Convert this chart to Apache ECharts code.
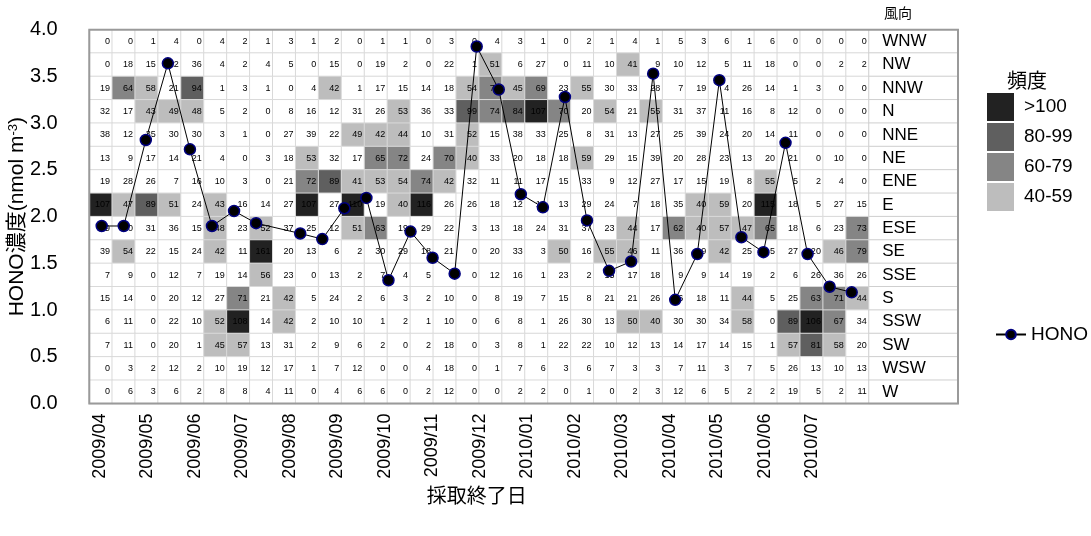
<!DOCTYPE html>
<html><head><meta charset="utf-8">
<script src="https://cdn.jsdelivr.net/npm/echarts@6/dist/echarts.min.js"></script>
<style>html,body{margin:0;padding:0;background:#fff}#c{width:1091px;height:536px}</style>
</head><body><div id="c"></div>
<script>
// ---- data ----
const directions = ['WNW','NW','NNW','N','NNE','NE','ENE','E','ESE','SE','SSE','S','SSW','SW','WSW','W'];
const freqWNW = [0,0,1,4,0,4,2,1, 3,1,2,0,1,1,0,3,0, 4,3,1,0,2,1,4,1,5,3, 6,1,6,0,0,0,0];
const freqNW  = [0,18,15,12,36,4,2,4, 5,0,15,0,19,2,0,22,1, 51,6,27,0,11,10,41,9,10,12, 5,11,18,0,0,2,2];
const freqNNW = [19,64,58,21,94,1,3,1, 0,4,42,1,17,15,14,18,54, 72,45,69,23,55,30,33,28,7,19, 4,26,14,1,3,0,0];
const freqN   = [32,17,43,49,48,5,2,0, 8,16,12,31,26,53,36,33,99, 74,84,107,70,20,54,21,55,31,37, 11,16,8,12,0,0,0];
const freqNNE = [38,12,35,30,30,3,1,0, 27,39,22,49,42,44,10,31,52, 15,38,33,25,8,31,13,27,25,39, 24,20,14,11,0,0,0];
const freqNE  = [13,9,17,14,21,4,0,3, 18,53,32,17,65,72,24,70,40, 33,20,18,18,59,29,15,39,20,28, 23,13,20,21,0,10,0];
const freqENE = [19,28,26,7,16,10,3,0, 21,72,89,41,53,54,74,42,32, 11,11,17,15,33,9,12,27,17,15, 19,8,55,5,2,4,0];
const freqE   = [107,47,89,51,24,43,16,14, 27,107,27,110,19,40,116,26,26, 18,12,19,13,29,24,7,18,35,40, 59,20,115,18,5,27,15];
const freqESE = [29,30,31,36,15,48,23,52, 37,25,12,51,63,19,29,22,3, 13,18,24,31,37,23,44,17,62,40, 57,47,65,18,6,23,73];
const freqSE  = [39,54,22,15,24,42,11,161, 20,13,6,2,30,29,18,21,0, 20,33,3,50,16,55,46,11,36,19, 42,25,5,27,20,46,79];
const freqSSE = [7,9,0,12,7,19,14,56, 23,0,13,2,7,4,5,0,0, 12,16,1,23,2,15,17,18,9,9, 14,19,2,6,26,36,26];
const freqS   = [15,14,0,20,12,27,71,21, 42,5,24,2,6,3,2,10,0, 8,19,7,15,8,21,21,26,16,18, 11,44,5,25,63,71,44];
const freqSSW = [6,11,0,22,10,52,108,14, 42,2,10,10,1,2,1,10,0, 6,8,1,26,30,13,50,40,30,30, 34,58,0,89,106,67,34];
const freqSW  = [7,11,0,20,1,45,57,13, 31,2,9,6,2,0,2,18,0, 3,8,1,22,22,10,12,13,14,17, 14,15,1,57,81,58,20];
const freqWSW = [0,3,2,12,2,10,19,12, 17,1,7,12,0,0,4,18,0, 1,7,6,3,6,7,3,3,7,11, 3,7,5,26,13,10,13];
const freqW   = [0,6,3,6,2,8,8,4, 11,0,4,6,6,0,2,12,0, 0,2,2,0,1,0,2,3,12,6, 5,2,2,19,5,2,11];

const samples = ['1','2','3','4','5','6','7','8','9','10','11','12','13','14','15','16','17','18','19','20','21','22','23','24','25','26','27','28','29','30','31','32','33','34','35'];
const hono = [1.90,1.90,2.82,3.64,2.72,1.90,2.06,1.93,null,1.82,1.76,2.09,2.20,1.32,1.84,1.56,1.39,3.82,3.36,2.24,2.10,3.28,1.96,1.42,1.52,3.53,1.11,1.60,3.46,1.78,1.62,2.79,1.60,1.25,1.19];
const months = ['2009/04','2009/05','2009/06','2009/07','2009/08','2009/09','2009/10','2009/11','2009/12','2010/01','2010/02','2010/03','2010/04','2010/05','2010/06','2010/07'];
const yTicks = [0,0.5,1,1.5,2,2.5,3,3.5,4];

// ---- build ----
const freqRows = [freqWNW,freqNW,freqNNW,freqN,freqNNE,freqNE,freqENE,freqE,freqESE,freqSE,freqSSE,freqS,freqSSW,freqSW,freqWSW,freqW];
const colNames = freqWNW.map((_, j) => 'c' + (j + 1));
const heatData = [];
freqRows.forEach((row, i) => row.forEach((v, j) => heatData.push([j, i, v])));
const dirData = directions.map((d, i) => [0, i, 0]);

const FONT = "'Liberation Sans', Arial, 'Noto Sans CJK JP', sans-serif";
const JP = "'Noto Sans CJK JP', sans-serif";
const TOP = 29.7, H = 373.9;

const chart = echarts.init(document.getElementById('c'), null, {renderer: 'canvas'});
chart.setOption({
  animation: false,
  backgroundColor: '#fff',
  title: [
    {text: '風向', left: 879, top: 1, textStyle: {fontSize: 14, fontWeight: 'normal', fontFamily: JP, color: '#000'}},
    {text: '頻度', left: 1002, top: 65, textStyle: {fontSize: 20, fontWeight: 'normal', fontFamily: JP, color: '#000'}}
  ],
  grid: [
    {left: 89.3, top: TOP, width: 779.7, height: H, outerBoundsMode: 'none'},
    {left: 869, top: TOP, width: 89, height: H, outerBoundsMode: 'none'},
    {left: 101.7, top: TOP, width: 750, height: H, outerBoundsMode: 'none'},
    {left: 100, top: TOP, width: 712.5, height: H, outerBoundsMode: 'none'},
    {left: 89.3, top: TOP, width: 868.7, height: H, outerBoundsMode: 'none', show: true, borderColor: '#9a9a9a', borderWidth: 2, backgroundColor: 'rgba(0,0,0,0)', z: 3}
  ],
  xAxis: [
    {type: 'category', gridIndex: 0, data: colNames, show: false},
    {type: 'category', gridIndex: 1, data: ['dir'], show: false},
    {type: 'category', gridIndex: 2, data: samples, boundaryGap: false,
     axisLine: {show: false}, axisTick: {show: false}, axisLabel: {show: false}, splitLine: {show: false},
     name: '採取終了日', nameLocation: 'middle', nameGap: 82, nameMoveOverlap: false,
     nameTextStyle: {fontSize: 20, fontFamily: JP, color: '#000'}},
    {type: 'category', gridIndex: 3, data: months, boundaryGap: false,
     axisLine: {show: false}, axisTick: {show: false}, splitLine: {show: false},
     axisLabel: {rotate: 90, margin: 10, fontSize: 18, fontFamily: FONT, color: '#000', interval: 0}},
    {type: 'value', gridIndex: 4, show: false}
  ],
  yAxis: [
    {type: 'category', gridIndex: 0, data: directions, inverse: true, show: false},
    {type: 'category', gridIndex: 1, data: directions, inverse: true, show: false},
    {type: 'value', gridIndex: 2, min: yTicks[0], max: yTicks[yTicks.length - 1], interval: 0.5,
     axisLine: {show: false}, axisTick: {show: false}, splitLine: {show: false},
     axisLabel: {margin: 44, fontSize: 20, color: '#000', fontFamily: FONT, formatter: v => v.toFixed(1)},
     name: 'HONO濃度(nmol m{sup|-3})', nameLocation: 'middle', nameGap: 74, nameMoveOverlap: false,
     nameTextStyle: {fontSize: 21, color: '#000', fontFamily: FONT,
       rich: {sup: {fontSize: 13, verticalAlign: 'top', padding: [0, 0, 8, 0], fontFamily: FONT, color: '#000'}}}},
    {type: 'value', gridIndex: 3, show: false},
    {type: 'value', gridIndex: 4, show: false}
  ],
  visualMap: {
    type: 'piecewise', seriesIndex: 0, dimension: 2,
    left: 972, top: 78, orient: 'vertical', align: 'left',
    itemWidth: 27, itemHeight: 28, itemGap: 2, itemSymbol: 'rect', textGap: 10,
    selectedMode: false,
    textStyle: {fontSize: 19, color: '#000', fontFamily: "'Liberation Sans Narrow', 'Liberation Sans', sans-serif"},
    pieces: [
      {gte: 100, label: '>100', color: '#222222'},
      {gte: 80, lt: 100, label: '80-99', color: '#5f5f5f'},
      {gte: 60, lt: 80, label: '60-79', color: '#858585'},
      {gte: 40, lt: 60, label: '40-59', color: '#bdbdbd'}
    ],
    outOfRange: {color: '#ffffff'}
  },
  legend: {
    data: ['HONO'], left: 990, top: 320, itemWidth: 30, itemHeight: 12,
    textStyle: {fontSize: 19, fontFamily: FONT, color: '#000'}
  },
  series: [
    {type: 'heatmap', xAxisIndex: 0, yAxisIndex: 0, data: heatData,
     itemStyle: {borderColor: '#d9d9d9', borderWidth: 1},
     label: {show: true, position: 'insideRight', distance: 3, fontSize: 9, color: '#000', fontFamily: FONT,
             formatter: p => p.value[2]},
     emphasis: {disabled: true}},
    {type: 'heatmap', xAxisIndex: 1, yAxisIndex: 1, data: dirData,
     itemStyle: {color: '#ffffff', borderColor: '#cfcfcf', borderWidth: 1},
     label: {show: true, position: 'insideLeft', distance: 14, fontSize: 17, color: '#000', fontFamily: FONT,
             formatter: p => directions[p.value[1]]},
     emphasis: {disabled: true}},
    {type: 'line', name: 'HONO', xAxisIndex: 2, yAxisIndex: 2, data: hono, connectNulls: true,
     symbol: 'circle', symbolSize: 11, z: 5,
     lineStyle: {color: '#000', width: 1},
     itemStyle: {color: '#000', borderColor: '#000080', borderWidth: 1.5}}
  ]
});
</script></body></html>
